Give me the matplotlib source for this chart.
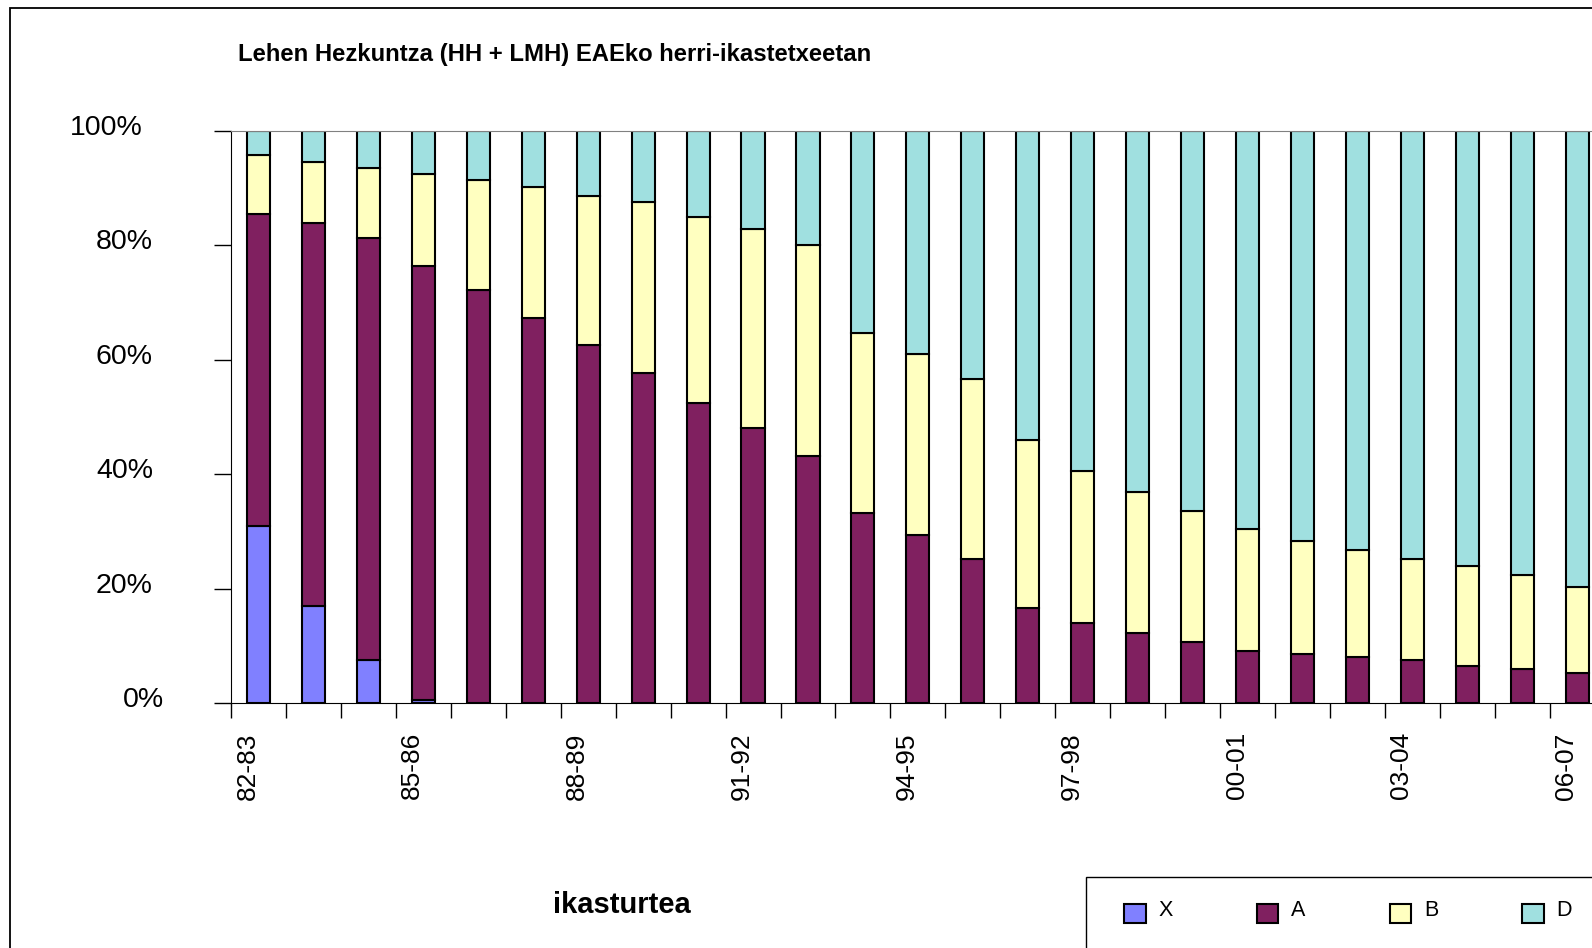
import numpy as np
import matplotlib
matplotlib.use("Agg")
import matplotlib.pyplot as plt
from matplotlib.patches import Rectangle
from matplotlib.transforms import ScaledTranslation

plt.rcParams['font.family'] = ['Liberation Sans', 'DejaVu Sans']

# ikasturteak
years = ['82-83', '83-84', '84-85', '85-86', '86-87', '87-88', '88-89', '89-90',
         '90-91', '91-92', '92-93', '93-94', '94-95', '95-96', '96-97', '97-98',
         '98-99', '99-00', '00-01', '01-02', '02-03', '03-04', '04-05', '05-06',
         '06-07']

# ereduak (%)
X = [30.9, 17.0, 7.5, 0.5, 0, 0, 0, 0, 0, 0, 0, 0, 0, 0, 0, 0, 0, 0, 0, 0,
     0, 0, 0, 0, 0]
A = [54.6, 66.9, 73.7, 75.9, 72.1, 67.3, 62.5, 57.6, 52.4, 48.1, 43.2, 33.2,
     29.4, 25.1, 16.6, 13.9, 12.2, 10.7, 9.1, 8.6, 8.0, 7.5, 6.4, 5.9, 5.3]
B = [10.2, 10.6, 12.2, 16.0, 19.2, 22.9, 26.1, 30.0, 32.6, 34.7, 36.9, 31.4,
     31.5, 31.5, 29.3, 26.7, 24.6, 22.9, 21.3, 19.7, 18.7, 17.6, 17.6, 16.5, 15.0]
D = [4.3, 5.5, 6.6, 7.6, 8.7, 9.8, 11.4, 12.4, 15.0, 17.2, 19.9, 35.4, 39.1,
     43.4, 54.1, 59.4, 63.2, 66.4, 69.6, 71.7, 73.3, 74.9, 76.0, 77.6, 79.7]

series = [('X', X, '#8080FF'), ('A', A, '#802060'),
          ('B', B, '#FFFFC0'), ('D', D, '#A0E0E0')]

W, H = 1592, 948
fig = plt.figure(figsize=(W / 100, H / 100), dpi=100)

# ardatzak: ezkerra x=231, 100% y=130.7, 0% y=703, eskuinetik moztuta
left, top, bottom = 231, 130.7, 703
step = 54.95
ax = fig.add_axes([left / W, 1 - bottom / H, 25 * step / W, (bottom - top) / H])

x = np.arange(len(years))
total = np.array(X) + np.array(A) + np.array(B) + np.array(D)
base = np.zeros(len(years))
handles = []
for name, vals, col in series:
    share = np.array(vals) / total
    b = ax.bar(x, share, 0.42, bottom=base, color=col, edgecolor='black',
               linewidth=1.5, label=name)
    handles.append(b)
    base = base + share

ax.set_xlim(-0.5, 24.5)
ax.set_ylim(0, 1)

ax.spines['right'].set_visible(False)
ax.spines['top'].set_color('#808080')
ax.spines['left'].set_color('black')
ax.spines['bottom'].set_color('black')

ax.set_yticks([0, 0.2, 0.4, 0.6, 0.8, 1.0])
ax.set_yticklabels(['0%', '20%', '40%', '60%', '80%', '100%'], fontsize=20.5)
ax.tick_params(axis='y', direction='out', length=12.2, width=1, pad=44)
# Excel-eko etiketak ez daude guztiz lerrokatuta
shift = {'0%': 0.11, '100%': -0.10}
for lab in ax.get_yticklabels():
    dx = shift.get(lab.get_text(), 0)
    lab.set_transform(lab.get_transform() + ScaledTranslation(dx, 0.06, fig.dpi_scale_trans))

ax.set_xticks(x[::3])
ax.set_xticklabels(years[::3], rotation=90, fontsize=19, va='top')
ax.set_xticks(np.arange(-0.5, 25, 1), minor=True)
ax.tick_params(axis='x', which='major', length=0, pad=21)
ax.tick_params(axis='x', which='minor', direction='out', length=10.8, width=1)
for lab in ax.get_xticklabels():
    lab.set_transform(lab.get_transform() + ScaledTranslation(-0.11, 0, fig.dpi_scale_trans))

fig.text(238 / W, 1 - 60.7 / H, 'Lehen Hezkuntza (HH + LMH) EAEko herri-ikastetxeetan',
         fontsize=17.2, fontweight='bold', va='baseline', ha='left')
fig.text(622 / W, 1 - 912.7 / H, 'ikasturtea', fontsize=21, fontweight='bold',
         va='baseline', ha='center')

# kanpoko markoa
fig.add_artist(Rectangle((10 / W, -0.1), 1.5, 1.1 - 8 / H, transform=fig.transFigure,
                         fill=False, edgecolor='black', linewidth=1.3))
# legendaren markoa
fig.add_artist(Rectangle((1086 / W, -0.1), 0.5, 0.1 + 1 - 877 / H,
                         transform=fig.transFigure, fill=False,
                         edgecolor='black', linewidth=1))

leg = fig.legend(handles=handles, labels=[s[0] for s in series], ncol=4, frameon=False,
                 loc='upper left', bbox_to_anchor=(1124 / W, 1 - 904 / H),
                 borderaxespad=0, borderpad=0, fontsize=15.5, handlelength=1.0,
                 handleheight=1.0, handletextpad=0.6, columnspacing=3.9)
for t in leg.get_texts():
    t.set_transform(t.get_transform() + ScaledTranslation(0, 0.05, fig.dpi_scale_trans))

fig.savefig('out.png', dpi=100)
